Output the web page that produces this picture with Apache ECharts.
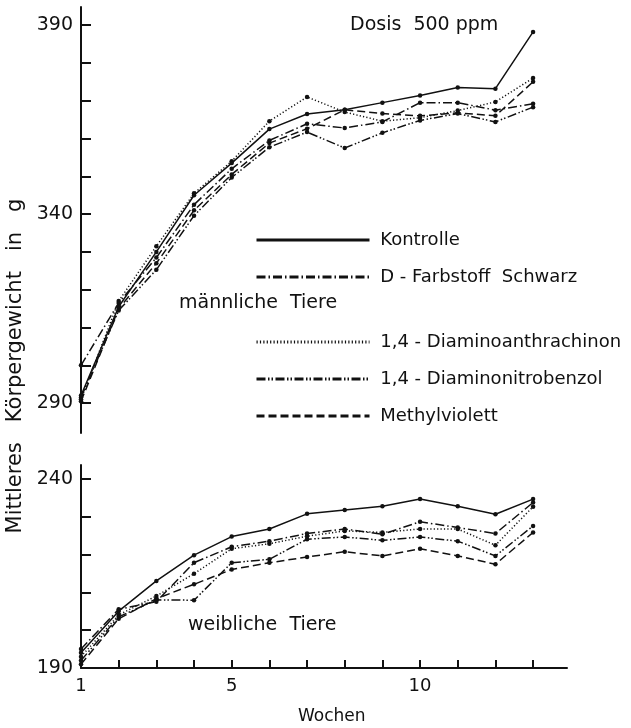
<!DOCTYPE html>
<html>
<head>
<meta charset="utf-8">
<script src="https://cdn.jsdelivr.net/npm/echarts@6/dist/echarts.min.js"></script>
<style>
  html, body { margin: 0; padding: 0; background: #fff; }
  #chart { width: 631px; height: 728px; }
</style>
</head>
<body>
<div id="chart"></div>
<script>
// Wochen 1..13
var wochen = [1, 2, 3, 4, 5, 6, 7, 8, 9, 10, 11, 12, 13];
var namen = ['Kontrolle', 'D - Farbstoff  Schwarz', '1,4 - Diaminoanthrachinon', '1,4 - Diaminonitrobenzol', 'Methylviolett'];

// männliche Tiere (g)
var m_kontrolle = [292, 315.5, 330, 345, 353.5, 362.5, 366.5, 367.6, 369.5, 371.4, 373.5, 373.2, 388.2];
var m_farbstoff = [300, 316.5, 328.5, 342.5, 352, 359.5, 363.9, 362.8, 364.4, 369.5, 369.5, 367.5, 369.2];
var m_anthra    = [291, 317, 331.5, 345.5, 354, 364.6, 371, 367, 364.6, 365.5, 367.4, 369.7, 376];
var m_nitro     = [291.5, 314.5, 325.3, 339.6, 349.7, 357.7, 361.7, 357.5, 361.5, 364.8, 366.6, 364.4, 368.3];
var m_violett   = [290.5, 315, 327, 341, 350.5, 358.8, 362.6, 367.6, 366.6, 366, 366.8, 366, 375];

// weibliche Tiere (g)
var w_kontrolle = [194, 205, 213, 219.8, 224.7, 226.7, 230.7, 231.7, 232.7, 234.6, 232.7, 230.6, 234.6];
var w_farbstoff = [195, 205.5, 207.5, 217.8, 222, 223.5, 225.5, 226.7, 225.3, 228.6, 227.1, 225.5, 233.7];
var w_anthra    = [193, 204, 209, 214.9, 221.5, 222.8, 224.8, 226.2, 225.8, 226.7, 226.7, 222.4, 232.6];
var w_nitro     = [192, 203.5, 208, 207.9, 217.8, 218.7, 224, 224.6, 223.7, 224.6, 223.5, 219.6, 227.5];
var w_violett   = [191, 203, 208.3, 212.1, 216, 217.8, 219.3, 220.7, 219.6, 221.5, 219.6, 217.4, 225.8];

var oben_ticks = [290, 300, 310, 320, 330, 340, 350, 360, 370, 380, 390];
var oben_labels = [290, 340, 390];
var unten_ticks = [190, 200, 210, 220, 230, 240];
var unten_labels = [190, 240];
var x_labels = [1, 5, 10];

var schwarz = '#111';
var schrift = 'DejaVu Sans';

// Strichmuster je Substanz
var muster = ['solid', [9, 3, 1.5, 3], [1.2, 2.2], [9, 2.5, 1.5, 2, 1.5, 2.5], [8, 4]];

function paare(werte) {
    var out = [];
    for (var i = 0; i < werte.length; i++) {
        out.push([wochen[i], werte[i]]);
    }
    return out;
}

function reihe(idx, werte, achse) {
    return {
        name: namen[idx],
        type: 'line',
        xAxisIndex: achse,
        yAxisIndex: achse,
        data: paare(werte),
        symbol: 'circle',
        symbolSize: 4.5,
        itemStyle: { color: schwarz },
        lineStyle: { color: schwarz, width: 1.5, type: muster[idx] },
        animation: false,
        z: 5 - idx
    };
}

var legendeBasis = {
    orient: 'vertical',
    left: 250,
    itemWidth: 113,
    itemHeight: 14,
    itemGap: 17,
    selectedMode: false,
    formatter: ' {name}',
    textStyle: { fontFamily: schrift, fontSize: 18, lineHeight: 20, color: schwarz },
    lineStyle: { width: 3 },
    itemStyle: { opacity: 0 }
};

var chart = echarts.init(document.getElementById('chart'));
var option = {
    backgroundColor: '#fff',
    animation: false,
    grid: [
        { left: 81, top: 7, width: 486, height: 426 },
        { left: 81, top: 465, width: 486, height: 203 }
    ],
    xAxis: [
        { type: 'value', gridIndex: 0, min: 1, max: 13.9, show: false },
        {
            type: 'value', gridIndex: 1, min: 1, max: 13.9,
            axisLine: { lineStyle: { color: schwarz, width: 2 } },
            axisTick: { inside: true, length: 8, lineStyle: { color: schwarz, width: 2 }, customValues: wochen },
            axisLabel: { customValues: x_labels, color: schwarz, fontFamily: schrift, fontSize: 18, margin: 9 },
            splitLine: { show: false }
        }
    ],
    yAxis: [
        {
            type: 'value', gridIndex: 0, min: 282.1, max: 394.8,
            axisLine: { show: true, lineStyle: { color: schwarz, width: 2 } },
            axisTick: { show: true, inside: true, length: 10, lineStyle: { color: schwarz, width: 2 }, customValues: oben_ticks },
            axisLabel: { customValues: oben_labels, color: schwarz, fontFamily: schrift, fontSize: 19, margin: 8 },
            splitLine: { show: false }
        },
        {
            type: 'value', gridIndex: 1, min: 190, max: 243.6,
            axisLine: { show: true, lineStyle: { color: schwarz, width: 2 } },
            axisTick: { show: true, inside: true, length: 10, lineStyle: { color: schwarz, width: 2 }, customValues: unten_ticks },
            axisLabel: { customValues: unten_labels, color: schwarz, fontFamily: schrift, fontSize: 19, margin: 8 },
            splitLine: { show: false }
        }
    ],
    legend: [
        Object.assign({}, legendeBasis, { top: 225, data: namen.slice(0, 2) }),
        Object.assign({}, legendeBasis, { top: 327, data: namen.slice(2) })
    ],
    graphic: [
        { type: 'text', x: 350, y: 25, style: { text: 'Dosis  500 ppm', font: '19px "DejaVu Sans"', fill: schwarz, verticalAlign: 'middle' } },
        { type: 'text', x: 179, y: 303, style: { text: 'männliche  Tiere', font: '19px "DejaVu Sans"', fill: schwarz, verticalAlign: 'middle' } },
        { type: 'text', x: 188, y: 625, style: { text: 'weibliche  Tiere', font: '19px "DejaVu Sans"', fill: schwarz, verticalAlign: 'middle' } },
        { type: 'text', x: 298, y: 717, style: { text: 'Wochen', font: '17px "DejaVu Sans"', fill: schwarz, verticalAlign: 'middle' } },
        { type: 'text', x: 16, y: 366, rotation: Math.PI / 2, style: { text: 'Mittleres   Körpergewicht   in   g', font: '21px "DejaVu Sans"', fill: schwarz, align: 'center', verticalAlign: 'middle' } }
    ],
    series: [
        reihe(0, m_kontrolle, 0), reihe(1, m_farbstoff, 0), reihe(2, m_anthra, 0), reihe(3, m_nitro, 0), reihe(4, m_violett, 0),
        reihe(0, w_kontrolle, 1), reihe(1, w_farbstoff, 1), reihe(2, w_anthra, 1), reihe(3, w_nitro, 1), reihe(4, w_violett, 1)
    ]
};
chart.setOption(option);
</script>
</body>
</html>
